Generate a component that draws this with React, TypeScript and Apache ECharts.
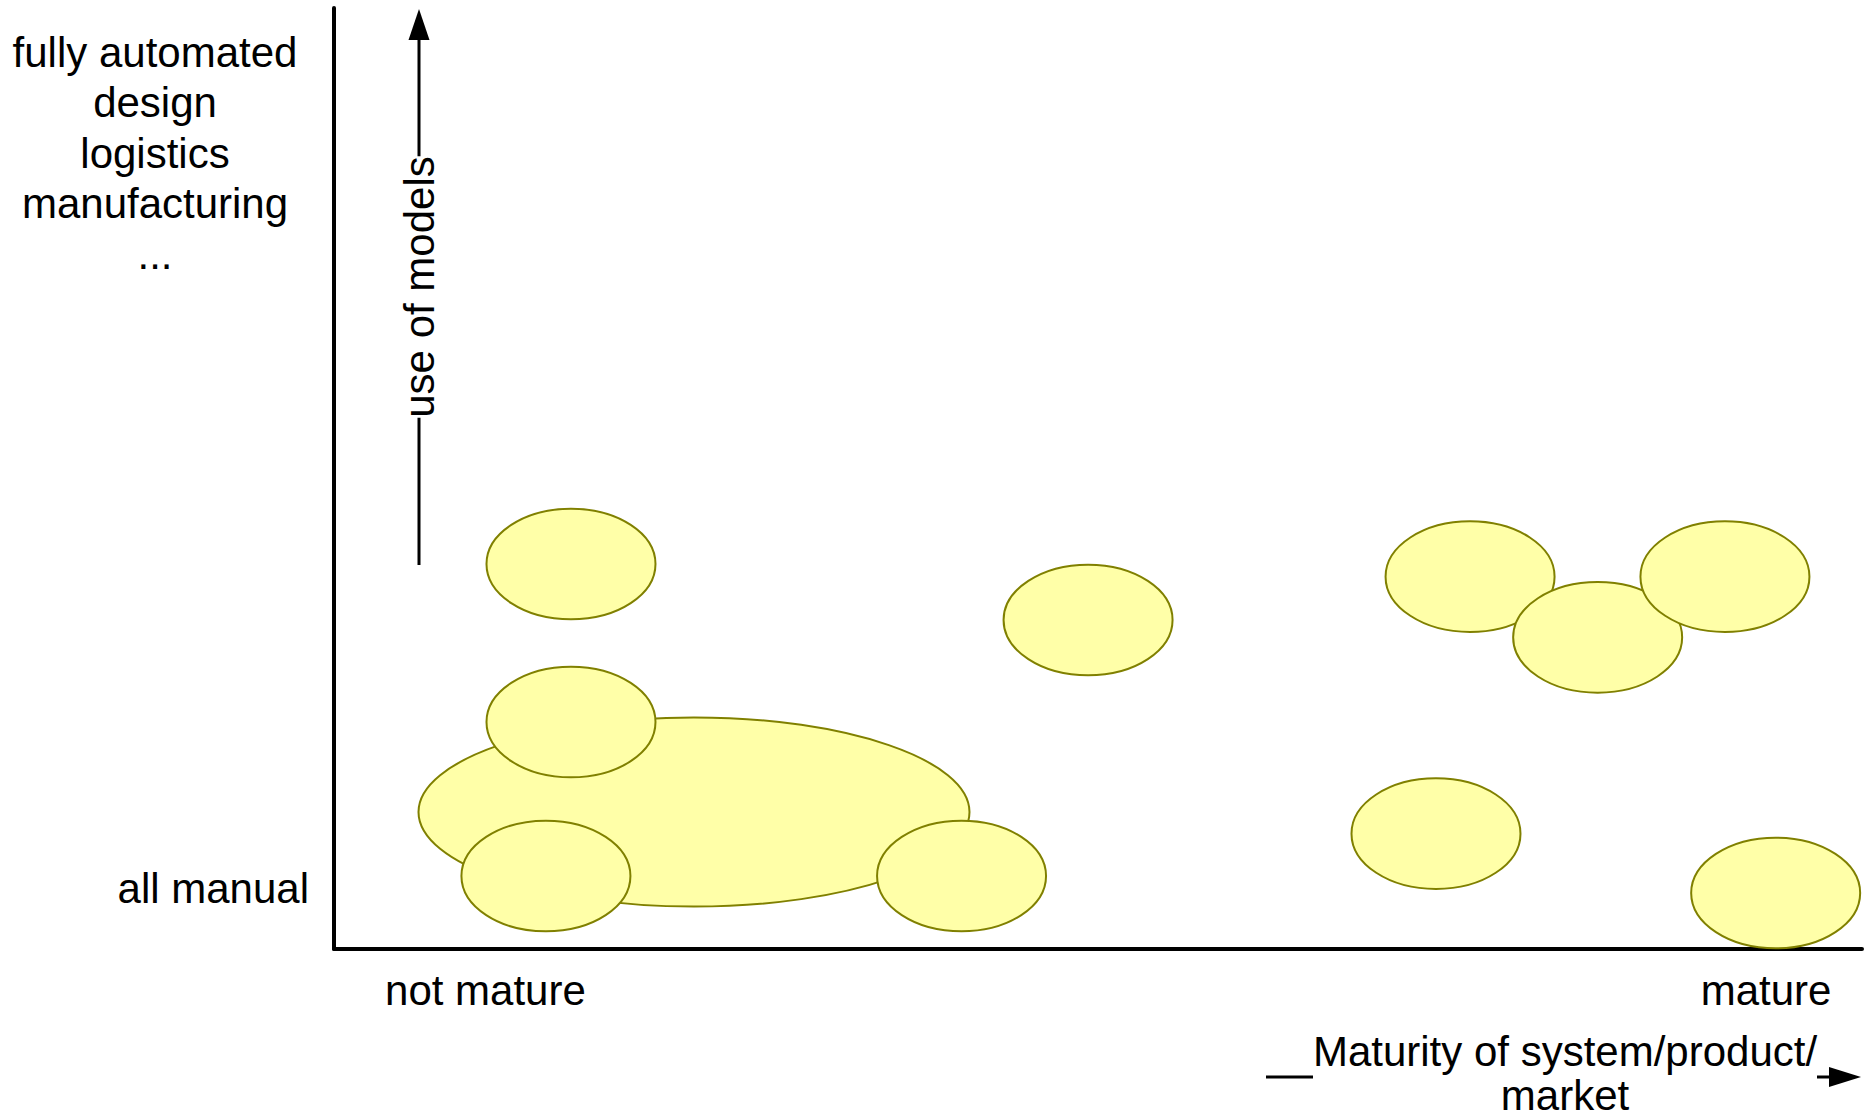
import { useEffect, useRef } from "react";
import * as echarts from "echarts";

// Blobs (ellipses): centre x, centre y, half-width, half-height in axis units (0..100)
const blobX = [23.56, 15.51, 15.51, 13.87, 41.07, 49.35, 74.35, 82.7, 91.03, 72.12, 94.35];
const blobY = [14.56, 40.91, 24.12, 7.76, 7.76, 34.96, 39.57, 33.12, 39.57, 12.26, 5.95];
const blobRx = [18.03, 5.53, 5.53, 5.53, 5.53, 5.53, 5.53, 5.53, 5.53, 5.53, 5.53];
const blobRy = [10.05, 5.88, 5.88, 5.88, 5.88, 5.88, 5.88, 5.88, 5.88, 5.88, 5.88];

// Tick labels
const yTickValues = [6.48, 84.57];
const yTickTexts = ["all manual", "fully automated\ndesign\nlogistics\nmanufacturing\n..."];
const xTickValues = [9.91, 93.72];
const xTickTexts = ["not mature", "mature"];

const yAxisTitle = "use of models";
const xAxisTitleLines = ["Maturity of system/product/", "market"];

const FONT = "'Liberation Sans', Arial, Helvetica, sans-serif";

export default function App() {
  const ref = useRef<HTMLDivElement>(null);

  useEffect(() => {
    if (!ref.current) return;
    const chart = echarts.init(ref.current, undefined, { renderer: "svg" });
    const data = blobX.map((x, i) => [x, blobY[i], blobRx[i], blobRy[i]]);

    chart.setOption({
      animation: false,
      backgroundColor: "#ffffff",
      grid: { left: 334, right: 4, top: 8, bottom: 170, containLabel: false },
      xAxis: {
        type: "value",
        min: 0,
        max: 100,
        axisLine: { show: true, lineStyle: { color: "#000", width: 4 } },
        axisTick: { show: false },
        axisLabel: { show: false },
        splitLine: { show: false },
      },
      yAxis: {
        type: "value",
        min: 0,
        max: 100,
        axisLine: { show: true, lineStyle: { color: "#000", width: 4 } },
        axisTick: { show: false },
        axisLabel: { show: false },
        splitLine: { show: false },
      },
      series: [
        {
          type: "custom",
          clip: false,
          data,
          renderItem: (params: any, api: any) => {
            const c = api.coord([api.value(0), api.value(1)]);
            const s = api.size([api.value(2), api.value(3)]);
            return {
              type: "ellipse",
              shape: { cx: c[0], cy: c[1], rx: s[0], ry: s[1] },
              style: { fill: "#FFFFA8", stroke: "#808000", lineWidth: 2 },
            };
          },
        },
      ],
    });

    const toPx = (x: number, y: number) =>
      chart.convertToPixel({ xAxisIndex: 0, yAxisIndex: 0 }, [x, y]) as number[];

    const origin = toPx(0, 0);
    const top = toPx(0, 100);
    const right = toPx(100, 0);
    const textBase = { font: `42px ${FONT}`, fill: "#000" };

    const graphics: any[] = [];

    // y tick labels
    const yLow = toPx(0, yTickValues[0]);
    graphics.push({
      type: "text",
      x: origin[0] - 25,
      y: yLow[1],
      z: 10,
      style: { ...textBase, text: yTickTexts[0], align: "right", verticalAlign: "middle" },
    });
    const yHigh = toPx(0, yTickValues[1]);
    graphics.push({
      type: "text",
      x: 155,
      y: yHigh[1],
      z: 10,
      style: {
        ...textBase,
        text: yTickTexts[1],
        align: "center",
        verticalAlign: "middle",
        lineHeight: 50.5,
      },
    });

    // x tick labels
    xTickValues.forEach((v, i) => {
      const p = toPx(v, 0);
      graphics.push({
        type: "text",
        x: p[0],
        y: origin[1] + 41,
        z: 10,
        style: { ...textBase, text: xTickTexts[i], align: "center", verticalAlign: "middle" },
      });
    });

    // vertical arrow "use of models"
    const vx = origin[0] + 85;
    graphics.push({
      type: "line",
      z: 5,
      shape: { x1: vx, y1: 565, x2: vx, y2: top[1] + 30 },
      style: { stroke: "#000", lineWidth: 3 },
    });
    graphics.push({
      type: "polygon",
      z: 5,
      shape: { points: [[vx, top[1] + 1], [vx - 10.5, top[1] + 32], [vx + 10.5, top[1] + 32]] },
      style: { fill: "#000" },
    });
    graphics.push({
      type: "text",
      x: vx,
      y: 287,
      rotation: Math.PI / 2,
      z: 10,
      style: {
        ...textBase,
        text: yAxisTitle,
        align: "center",
        verticalAlign: "middle",
        backgroundColor: "#fff",
      },
    });

    // horizontal arrow "Maturity of system/product/ market"
    const hy = origin[1] + 128;
    graphics.push({
      type: "line",
      z: 5,
      shape: { x1: 1266, y1: hy, x2: right[0] - 30, y2: hy },
      style: { stroke: "#000", lineWidth: 3 },
    });
    graphics.push({
      type: "polygon",
      z: 5,
      shape: { points: [[right[0] - 1, hy], [right[0] - 33, hy - 10], [right[0] - 33, hy + 10]] },
      style: { fill: "#000" },
    });
    // white band behind the title, interrupting the arrow line
    graphics.push({
      type: "rect",
      z: 8,
      shape: { x: 1313, y: 1030, width: 504, height: 60 },
      style: { fill: "#fff" },
    });
    graphics.push({
      type: "text",
      x: 1565,
      y: 1051,
      z: 10,
      style: {
        ...textBase,
        text: xAxisTitleLines[0],
        align: "center",
        verticalAlign: "middle",
        lineHeight: 44,
      },
    });
    graphics.push({
      type: "text",
      x: 1565,
      y: 1095,
      z: 10,
      style: {
        ...textBase,
        text: xAxisTitleLines[1],
        align: "center",
        verticalAlign: "middle",
        lineHeight: 36,
      },
    });

    chart.setOption({ graphic: graphics });

    return () => chart.dispose();
  }, []);

  return (
    <div
      ref={ref}
      style={{ position: "fixed", left: 0, top: 0, width: 1866, height: 1119 }}
    />
  );
}
